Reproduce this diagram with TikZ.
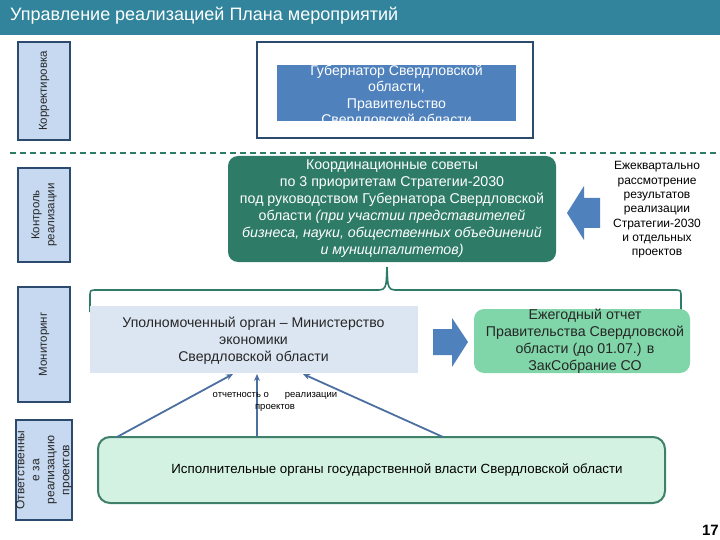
\documentclass[tikz,border=0pt]{standalone}
\usepackage{fontspec}
\setmainfont{Liberation Sans}
\usetikzlibrary{calc,arrows.meta}
\definecolor{titlec}{HTML}{31849B}
\definecolor{lblue}{HTML}{C6D9F1}
\definecolor{navy}{HTML}{2C4A6E}
\definecolor{gblue}{HTML}{4F81BD}
\definecolor{cgreen}{HTML}{2E7B68}
\definecolor{egreen}{HTML}{80D6A9}
\definecolor{bgreen}{HTML}{D3F2E1}
\definecolor{bgborder}{HTML}{3F806B}
\definecolor{upfill}{HTML}{DCE6F2}
\definecolor{arrc}{HTML}{4A6FA0}
\definecolor{dashc}{HTML}{2E7B68}
\definecolor{darktext}{HTML}{262626}
\tikzset{
  lbox/.style={draw=navy, line width=1.5pt, fill=lblue, rotate=90, inner sep=0pt,
    align=center, font=\fontsize{11.5}{15}\selectfont, text=darktext},
  blockarrow/.style={fill=gblue},
  uparr/.style={draw=arrc, line width=1.8pt, -{Stealth[length=7pt,width=6pt]}},
  bracestyle/.style={draw=cgreen, line width=1.6pt},
  dashline/.style={draw=dashc, line width=2.5pt, dash pattern=on 6pt off 4pt},
}
\begin{document}
\begin{tikzpicture}[x=1pt,y=-1pt]
\useasboundingbox (0,0) rectangle (720,540);
\fill[white] (0,0) rectangle (720,540);
% title bar
\fill[titlec] (0,0) rectangle (720,35);
\node[anchor=west, text=white, font=\fontsize{18}{18}\selectfont, inner sep=0pt] (title) at (10,16) {Управление реализацией Плана мероприятий};

% left labels
\node[lbox, minimum width=98pt, minimum height=52pt] (korr) at (44,91) {Корректировка};
\node[lbox, minimum width=94pt, minimum height=52pt] (kontr) at (44,215) {Контроль\\реализации};
\node[lbox, minimum width=115pt, minimum height=52pt] (monit) at (44,344.5) {Мониторинг};
\node[lbox, minimum width=100pt, minimum height=52pt, font=\fontsize{12}{15}\selectfont] (otv) at (44,470) {Ответственны\\е за\\реализацию\\проектов};

% dashed separator
\coordinate (dl) at (10,153);
\coordinate (dr) at (720,153);
\draw[dashline] (dl) -- (dr);

% governor box
\node[draw=navy, line width=2pt, fill=white, minimum width=276pt, minimum height=96pt, inner sep=0pt] (gov) at (395,90) {};
\node[fill=gblue, minimum width=239pt, minimum height=56pt, inner sep=0pt] (govin) at (396.5,93) {};
\begin{scope}
  \clip (govin.north west) rectangle (govin.south east);
  \node[text=white, align=center, font=\fontsize{14.1}{16.5}\selectfont] (govt) at (396.5,96) {Губернатор Свердловской\\области,\\Правительство\\Свердловской области};
\end{scope}

% coordination councils
\node[fill=cgreen, rounded corners=10pt, minimum width=328pt, minimum height=106pt, inner sep=0pt,
  text=white, align=center, font=\fontsize{14.2}{17}\selectfont] (coord) at (392,209)
  {Координационные советы\\по 3 приоритетам Стратегии-2030\\под руководством Губернатора Свердловской\\области \textit{(при участии представителей}\\\textit{бизнеса, науки, общественных объединений}\\\textit{и муниципалитетов)}};

% quarterly text
\node[align=center, font=\fontsize{12}{14.3}\selectfont, text=black] (kvart) at (657,210)
  {Ежеквартально\\рассмотрение\\результатов\\реализации\\Стратегии-2030\\и отдельных\\проектов};

% left block arrow
\fill[blockarrow] (567,213) -- (584,186) -- (584,198) -- (600,198) -- (600,228) -- (584,228) -- (584,240) -- cycle;

% brace
\draw[bracestyle] (90,312) -- (90,297) .. controls (90,290) .. (97,290) -- (379,290)
  .. controls (385,290) and (386,286) .. (386.4,280) -- (387,267) -- (387.6,280)
  .. controls (388,286) and (389,290) .. (395,290) -- (674,290)
  .. controls (681,290) .. (681,297) -- (681,312);

% authorized body
\node[fill=upfill, minimum width=328pt, minimum height=67pt, inner sep=0pt] (upol) at (254,339.5) {};
\node[text=darktext, align=center, font=\fontsize{14.1}{17}\selectfont] (upolt) at (253.5,341)
  {Уполномоченный орган -- Министерство\\экономики\\Свердловской области};

% right block arrow
\fill[blockarrow] (433,329) -- (452,329) -- (452,318) -- (468,342) -- (452,367) -- (452,355) -- (433,355) -- cycle;

% annual report
\node[fill=egreen, rounded corners=10pt, minimum width=216pt, minimum height=64pt, inner sep=0pt] (annual) at (582,341) {};
\node[text=darktext, align=center, font=\fontsize{14.2}{17}\selectfont] (annualt) at (585,341)
  {Ежегодный отчет\\Правительства Свердловской\\области (до 01.07.) в\\ЗакСобрание СО};

% executive bodies
\node[fill=bgreen, draw=bgborder, line width=2pt, rounded corners=12pt, minimum width=567pt,
  minimum height=66pt, inner sep=0pt] (exec) at (381.5,470) {};
\node[font=\fontsize{13.3}{15}\selectfont, text=black] (exect) at (397,470)
  {Исполнительные органы государственной власти Свердловской области};

% reporting arrows
\coordinate (s1) at (117,437);
\coordinate (s2) at (257,437);
\coordinate (s3) at (443,437);
\coordinate (e1) at (233,374);
\coordinate (e2) at (257,374);
\coordinate (e3) at (303,374);
\draw[uparr] (s1) -- (e1);
\draw[uparr] (s2) -- (e2);
\draw[uparr] (s3) -- (e3);
\node[align=center, font=\fontsize{9.5}{12}\selectfont, text=black] (rep) at (275,402)
  {отчетность о\hspace{16pt}реализации\\проектов};

% page number
\node[anchor=east, font=\bfseries\fontsize{15}{15}\selectfont, inner sep=0pt] (pg) at (719,530) {17};
\end{tikzpicture}
\end{document}
